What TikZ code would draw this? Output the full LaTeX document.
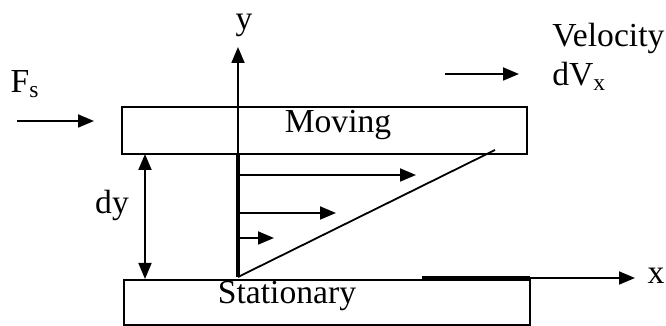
\documentclass[tikz,border=0pt]{standalone}
\usepackage{fontspec}
\setmainfont{Liberation Serif}
\usetikzlibrary{arrows.meta}
\begin{document}
\begin{tikzpicture}[x=0.5pt,y=-0.5pt,
  plate/.style={draw,line width=0.9pt,inner sep=0pt,rectangle},
  lbl/.style={inner sep=0pt,font=\fontsize{16.8}{20}\selectfont},
  arr/.style={line width=0.9pt,-{Triangle[length=8pt,width=6.5pt]}},
  darr/.style={line width=0.9pt,{Triangle[length=8pt,width=6.5pt]}-{Triangle[length=8pt,width=6.5pt]}}]
\useasboundingbox (0,0) rectangle (666,326);
% plates
\node[plate,minimum width=202.5pt,minimum height=23.5pt] (movbox) at (324.5,130.5) {};
\node[lbl] (movtext) at (338,125) {Moving};
\node[plate,minimum width=203pt,minimum height=22.5pt] (statbox) at (327,302.5) {};
\node[lbl] (stattext) at (287,296) {Stationary};
% axes
\coordinate (o) at (238,277);
\coordinate (ytip) at (238,47);
\coordinate (xs) at (422,278);
\coordinate (xm) at (530,278);
\coordinate (xtip) at (635,278);
\node[lbl] (ylab) at (244,25) {y};
\node[lbl] (xlab) at (656,276) {x};
\draw[arr] (o) -- (ytip);
\draw[line width=2pt] (xs) -- (xm);
\draw[arr] (xs) -- (xtip);
% thick wall line
\coordinate (wtop) at (238,154);
\draw[line width=2pt] (wtop) -- (o);
% velocity arrows
\coordinate (a1s) at (238,175); \coordinate (a1e) at (416,175);
\coordinate (a2s) at (238,213); \coordinate (a2e) at (336,213);
\coordinate (a3s) at (238,238); \coordinate (a3e) at (274,238);
\draw[arr] (a1s) -- (a1e);
\draw[arr] (a2s) -- (a2e);
\draw[arr] (a3s) -- (a3e);
% profile line
\coordinate (ptop) at (495,150);
\draw[line width=0.9pt] (o) -- (ptop);
% dy
\coordinate (dyt) at (145,154);
\coordinate (dyb) at (145,279);
\draw[darr] (dyt) -- (dyb);
\node[lbl] (dylab) at (112,205) {dy};
% Fs
\node[lbl] (fslab) at (25,84) {F\textsubscript{s}};
\coordinate (fs1) at (17,121); \coordinate (fs2) at (94,121);
\draw[arr] (fs1) -- (fs2);
% velocity
\node[lbl,anchor=west] (vel) at (552,38) {Velocity};
\node[lbl,anchor=west] (dvx) at (552,76) {dV\textsubscript{x}};
\coordinate (v1) at (445,74); \coordinate (v2) at (519,74);
\draw[arr] (v1) -- (v2);
\end{tikzpicture}
\end{document}
